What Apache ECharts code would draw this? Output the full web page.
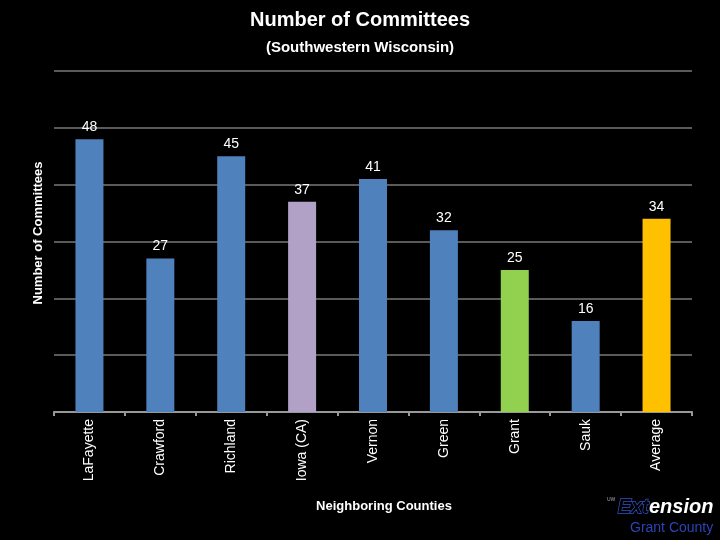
<!DOCTYPE html>
<html>
<head>
<meta charset="utf-8">
<script src="https://cdn.jsdelivr.net/npm/echarts@6/dist/echarts.min.js"></script>
<style>html,body{margin:0;padding:0;background:#000;}#c{width:720px;height:540px;}</style>
</head>
<body>
<div id="c"></div>
<script>
var categories = ['LaFayette', 'Crawford', 'Richland', 'Iowa (CA)', 'Vernon', 'Green', 'Grant', 'Sauk', 'Average'];
var values = [48, 27, 45, 37, 41, 32, 25, 16, 34];
var barColors = ['#4F81BD', '#4F81BD', '#4F81BD', '#B2A1C7', '#4F81BD', '#4F81BD', '#92D050', '#4F81BD', '#FFC000'];

var chart = echarts.init(document.getElementById('c'));
var font = 'Liberation Sans, Arial, sans-serif';
chart.setOption({
  backgroundColor: '#000',
  animation: false,
  title: [{
    text: 'Number of Committees',
    left: 'center', top: 5,
    textStyle: {color: '#fff', fontSize: 20, fontWeight: 'bold', fontFamily: font}
  }, {
    text: '(Southwestern Wisconsin)',
    left: 'center', top: 35,
    textStyle: {color: '#fff', fontSize: 15, fontWeight: 'bold', fontFamily: font}
  }],
  grid: {left: 54, right: 28, top: 71, bottom: 128},
  xAxis: {
    type: 'category',
    data: categories,
    axisLine: {lineStyle: {color: '#999', width: 2}},
    axisTick: {show: true, length: 4, lineStyle: {color: '#999', width: 2}},
    axisLabel: {rotate: 90, color: '#fff', fontSize: 14, fontFamily: font, margin: 7}
  },
  yAxis: {
    type: 'value',
    min: 0, max: 60, interval: 10,
    axisLabel: {show: false},
    axisLine: {show: false},
    axisTick: {show: false},
    splitLine: {lineStyle: {color: '#5a5a5a', width: 2}}
  },
  series: [{
    type: 'bar',
    barWidth: 28,
    data: values.map(function (v, i) { return {value: v, itemStyle: {color: barColors[i]}}; }),
    label: {show: true, position: 'top', distance: 5, color: '#fff', fontSize: 14, fontFamily: font}
  }],
  graphic: [
    {type: 'text', x: 384, y: 506, style: {text: 'Neighboring Counties', fill: '#fff', fontSize: 13, fontWeight: 'bold', fontFamily: font, align: 'center', verticalAlign: 'middle'}},
    {type: 'text', x: 38, y: 233, rotation: Math.PI / 2, style: {text: 'Number of Committees', fill: '#fff', fontSize: 13, fontWeight: 'bold', fontFamily: font, align: 'center', verticalAlign: 'middle'}},
    {type: 'text', left: 607, top: 497, style: {text: 'UW', fill: '#aab', fontSize: 5, fontFamily: font}},
    {type: 'text', left: 617, top: 497, style: {text: 'Ext', fill: '#000', stroke: '#3355cc', lineWidth: 1.3, fontSize: 20, fontWeight: 'bold', fontStyle: 'italic', fontFamily: font}},
    {type: 'text', left: 649, top: 497, style: {text: 'ension', fill: '#fff', fontSize: 20, fontWeight: 'bold', fontStyle: 'italic', fontFamily: font}},
    {type: 'text', left: 630, top: 521, style: {text: 'Grant County', fill: '#2b44b8', fontSize: 14, fontFamily: font}}
  ]
});
</script>
</body>
</html>
